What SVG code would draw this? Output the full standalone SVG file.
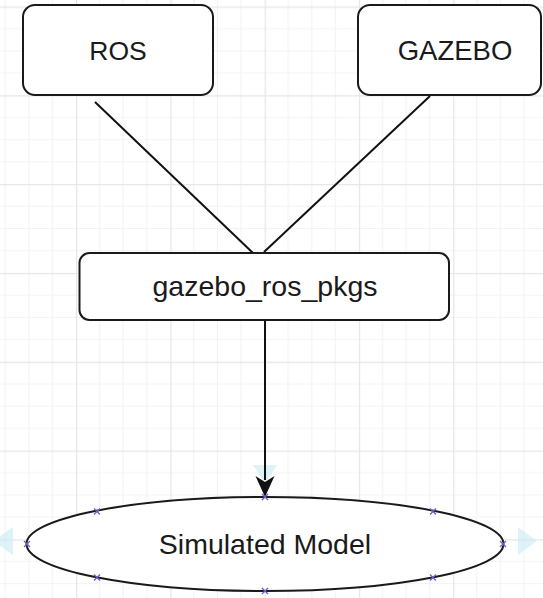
<svg xmlns="http://www.w3.org/2000/svg" width="543" height="598" viewBox="0 0 543 598">
<style>
.node{fill:#ffffff;stroke:#1a1a1a;stroke-width:2}
.lbl{font-family:"Liberation Sans",Arial,sans-serif;fill:#1a1a1a;text-anchor:middle}
.edge{stroke:#111111;stroke-width:2;fill:none}
.handle{stroke:#6b5fc4;stroke-width:1.3;fill:none}
.hover{fill:#c6ebf4;opacity:0.6}
</style>
<defs>
<pattern id="grid" patternUnits="userSpaceOnUse" x="76" y="6.5" width="94.3" height="88.8">
<g stroke="#f3f3f3" stroke-width="1.2">
<line x1="23.575" y1="0" x2="23.575" y2="88.8"/>
<line x1="47.15" y1="0" x2="47.15" y2="88.8"/>
<line x1="70.725" y1="0" x2="70.725" y2="88.8"/>
<line x1="0" y1="22.2" x2="94.3" y2="22.2"/>
<line x1="0" y1="44.4" x2="94.3" y2="44.4"/>
<line x1="0" y1="66.6" x2="94.3" y2="66.6"/>
</g>
<g stroke="#e6e6e6" stroke-width="1.5">
<line x1="0.5" y1="0" x2="0.5" y2="88.8"/>
<line x1="0" y1="0.5" x2="94.3" y2="0.5"/>
</g>
</pattern>
</defs>
<rect x="0" y="0" width="543" height="598" fill="#ffffff"/>
<rect x="0" y="0" width="543" height="598" fill="url(#grid)"/>

<g id="hover-arrows">
<polygon class="hover" points="253,465 277,465 265,484"/>
<polygon class="hover" points="518,527 518,555 537,541"/>
<polygon class="hover" points="13,527 13,555 -6,541"/>
</g>

<g id="connectors">
<line class="edge" x1="95" y1="102" x2="253" y2="253"/>
<line class="edge" x1="430" y1="96" x2="264" y2="252"/>
<line class="edge" x1="265" y1="320" x2="265" y2="480"/>
<path d="M265,497 L255.5,476 L265,482 L274.5,476 Z" fill="#111111"/>
</g>

<g id="node-ros">
<rect class="node" x="23" y="5" width="190" height="90" rx="12"/>
<text class="lbl" x="118" y="60" font-size="26.5">ROS</text>
</g>

<g id="node-gazebo">
<rect class="node" x="358" y="5" width="183" height="90" rx="12"/>
<text class="lbl" x="455" y="60" font-size="27.5">GAZEBO</text>
</g>

<g id="node-gazebo-ros-pkgs">
<rect class="node" x="79.5" y="253" width="369.5" height="67" rx="10"/>
<text class="lbl" x="265" y="296" font-size="28.5">gazebo_ros_pkgs</text>
</g>

<g id="node-simulated-model">
<ellipse class="node" cx="265" cy="544" rx="238.5" ry="47"/>
<text class="lbl" x="265" y="554" font-size="28.5">Simulated Model</text>
</g>

<g id="selection-handles">
<path class="handle" d="M262,494 l6,6 M268,494 l-6,6"/>
<path class="handle" d="M262,588 l6,6 M268,588 l-6,6"/>
<path class="handle" d="M24,541 l6,6 M30,541 l-6,6"/>
<path class="handle" d="M500,541 l6,6 M506,541 l-6,6"/>
<path class="handle" d="M94,508.5 l6,6 M100,508.5 l-6,6"/>
<path class="handle" d="M430,508.5 l6,6 M436,508.5 l-6,6"/>
<path class="handle" d="M94,574.5 l6,6 M100,574.5 l-6,6"/>
<path class="handle" d="M430,574.5 l6,6 M436,574.5 l-6,6"/>
</g>
</svg>
